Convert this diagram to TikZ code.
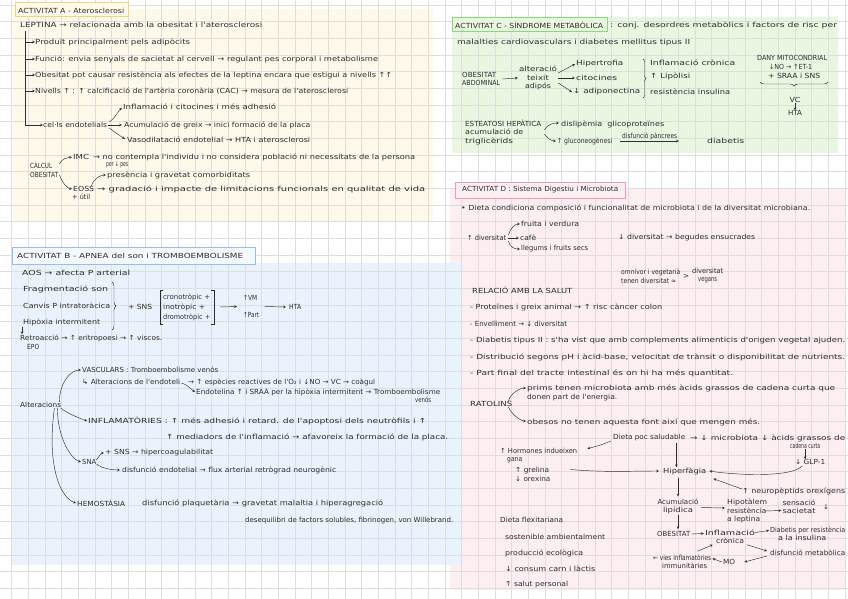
\documentclass[tikz,border=0pt]{standalone}
\usepackage{fontspec}
\usepackage{graphicx}
\usetikzlibrary{arrows.meta,decorations.pathreplacing,calc}
\newfontfamily\hand{DejaVu Sans}
\definecolor{ink}{HTML}{2E2E2E}
\definecolor{yelF}{HTML}{FFF9E9}
\definecolor{yelB}{HTML}{F3D37B}
\definecolor{bluF}{HTML}{EAF3FD}
\definecolor{bluB}{HTML}{92BFF3}
\definecolor{greF}{HTML}{E9F6E0}
\definecolor{greB}{HTML}{86DC74}
\definecolor{pinF}{HTML}{FDEEF2}
\definecolor{pinB}{HTML}{F09ABA}
\definecolor{gridc}{HTML}{DEDEDE}
\newsavebox\wbox
\newcommand\W[2]{\sbox\wbox{#2}\pgfmathsetmacro\wfac{#1/\the\wd\wbox}\scalebox{\wfac}[1]{\usebox\wbox}}
\begin{document}
\begin{tikzpicture}[x=1pt,y=-1pt,
  tx/.style={anchor=west,inner sep=0pt,text=ink,font=\hand\fontsize{7}{8.5}\selectfont},
  ml/.style={tx,align=left},
  mc/.style={tx,anchor=center,align=center},
  ar/.style={draw=ink,line width=0.45pt,-{Stealth[length=2.8pt,width=2.6pt]}},
  ln/.style={draw=ink,line width=0.45pt},
  tbox/.style={line width=1pt}]
\useasboundingbox (0,0) rectangle (848,599);
\fill[white] (0,0) rectangle (848,599);
% region fills
\fill[yelF] (13,9) rectangle (433,222);
\fill[greF] (452,17) rectangle (838,153);
\fill[pinF] (450,188) rectangle (845,590);
\fill[bluF] (12,263) rectangle (463,565);
% grid
\foreach \i in {0,...,50} \draw[gridc,line width=0.5pt] ({11.67+16.667*\i},0) -- ++(0,599);
\foreach \j in {0,...,35} \draw[gridc,line width=0.5pt] (0,{5+16.667*\j}) -- ++(848,0);
% ---------------- A
\draw[yelB,tbox,fill=yelF] (15,3) rectangle (128,17);
\node[tx] (tA) at (18,10.5) {\W{106}{ACTIVITAT A - Aterosclerosi}};
\node[tx] (a1) at (20,25) {\W{242}{LEPTINA → relacionada amb la obesitat i l'aterosclerosi}};
\node[tx] (a2) at (35,42) {\W{155}{Produït principalment pels adipòcits}};
\node[tx] (a3) at (35,59) {\W{343}{Funció: envia senyals de sacietat al cervell → regulant pes corporal i metabolisme}};
\node[tx] (a4) at (35,75) {\W{357}{Obesitat pot causar resistència als efectes de la leptina encara que estigui a nivells ↑↑}};
\node[tx] (a5) at (35,91) {\W{313}{Nivells ↑ : ↑ calcificació de l'artèria coronària (CAC) → mesura de l'aterosclerosi}};
\node[tx] (a6) at (43,125) {\W{64}{cel·ls endotelials}};
\coordinate (aT) at (25,31);
\draw[ar] (aT) |- (a6.west);
\draw[ar] (aT |- a2.west) -- (a2.west);
\draw[ar] (aT |- a3.west) -- (a3.west);
\draw[ar] (aT |- a4.west) -- (a4.west);
\draw[ar] (aT |- a5.west) -- (a5.west);
\node[tx] (a7) at (123,107) {\W{153}{Inflamació i citocines i més adhesió}};
\node[tx] (a8) at (124,125) {\W{186}{Acumulació de greix → inici formació de la placa}};
\node[tx] (a9) at (127,140) {\W{183}{Vasodilatació endotelial → HTA i aterosclerosi}};
\draw[ar] ($(a6.east)+(2,-3)$) .. controls +(6,-4) and +(-4,3) .. ($(a7.west)+(-1,1)$);
\draw[ar] ($(a6.east)+(1,0)$) -- ($(a8.west)+(-2,0)$);
\draw[ar] ($(a6.east)+(2,3)$) .. controls +(5,4) .. ($(a9.west)+(-2,-1)$);
\node[ml] (a10) at (30,170) {\W{22}{CÀLCUL}\\\W{28}{OBESITAT}};
\node[tx] (a11) at (73,157) {\W{16}{IMC}};
\node[tx] (a12) at (93,157) {\W{322}{→ no contempla l'individu i no considera població ni necessitats de la persona}};
\node[tx] (a13) at (106,165) {\W{22}{per ↓ pes}};
\node[tx] (a14) at (73,189) {\W{21}{EOSS}};
\node[tx] (a15) at (72,197) {\W{18}{+ útil}};
\node[tx] (a16) at (97,189) {\W{328}{→ gradació i impacte de limitacions funcionals en qualitat de vida}};
\node[tx] (a17) at (107,175) {\W{143}{presència i gravetat comorbiditats}};
\draw[ar] ($(a10.east)+(1,-6)$) .. controls +(3,-6) and +(-5,1) .. ($(a11.west)+(-1,0)$);
\draw[ar] ($(a10.east)+(1,5)$) .. controls +(3,8) and +(-5,-1) .. ($(a14.west)+(-1,0)$);
\draw[ar] ($(a14.north east)+(-3,0)$) .. controls +(2,-8) and +(-5,0) .. ($(a17.west)+(-1,0)$);
% ---------------- B
\draw[bluB,tbox,fill=bluF!50!white] (12,247) rectangle (255,264);
\node[tx] (tB) at (17,256) {\W{226}{ACTIVITAT B - APNEA del son i TROMBOEMBOLISME}};
\node[tx] (b1) at (22,273) {\W{108}{AOS → afecta P arterial}};
\node[tx] (b2) at (23,289) {\W{85}{Fragmentació son}};
\node[tx] (b3) at (23,306) {\W{87}{Canvis P intratoràcica}};
\node[tx] (b4) at (23,322) {\W{77}{Hipòxia intermitent}};
\draw[ln,decorate,decoration={brace,amplitude=4pt}] (112,282) -- (112,330);
\node[tx] (b5) at (128,307) {\W{24}{+ SNS}};
\draw[ln] (163,290) -- (160,290) -- (160,324) -- (163,324);
\draw[ln] (211,290) -- (214,290) -- (214,324) -- (211,324);
\coordinate (brR) at (214,307);
\node[tx] (b6) at (163,297) {\W{47}{cronotròpic +}};
\node[tx] (b7) at (163,307) {\W{42}{inotròpic +}};
\node[tx] (b8) at (163,317) {\W{47}{dromotròpic +}};
\node[tx] (b9) at (243,298) {\W{14}{↑VM}};
\node[tx] (b10) at (243,315) {\W{16}{↑Part}};
\node[tx] (b11) at (289,307) {\W{12}{HTA}};
\draw[ar] ($(brR)+(6,0)$) -- ($(b9.west)!0.5!(b10.west)+(-6,0)$);
\draw[ar] ($(b9.east)!0.5!(b10.east)+(6,0)$) -- ($(b11.west)+(-3,0)$);
\node[tx] (b12) at (20,338) {\W{142}{Retroacció → ↑ eritropoesi → ↑ viscos.}};
\node[tx] (b13) at (27,347) {\W{12}{EPO}};
\draw[ar] ($(b4.south west)+(-1,1)$) -- ($(b12.north west)+(2,0)$);
\node[tx] (b14) at (20,405) {\W{41}{Alteracions}};
\node[tx] (b15) at (82,370) {\W{136}{VASCULARS : Tromboembolisme venós}};
\node[tx] (b16) at (82,382) {\W{98}{↳ Alteracions de l'endoteli}};
\node[tx] (b17) at (188,382) {\W{187}{→ ↑ espècies reactives de l'O₂ i ↓NO → VC → coàgul}};
\node[tx] (b18) at (196,392) {\W{244}{Endotelina ↑ i SRAA per la hipòxia intermitent → Tromboembolisme}};
\node[tx] (b19) at (415,400) {\W{16}{venós}};
\draw[ar] ($(b16.east)+(1,1)$) .. controls +(5,1) and +(-4,-3) .. ($(b18.west)+(-1,0)$);
\node[tx] (b20) at (88,421) {\W{338}{INFLAMATÒRIES : ↑ més adhesió i retard. de l'apoptosi dels neutròfils i ↑}};
\node[tx] (b21) at (166,437) {\W{282}{↑ mediadors de l'inflamació → afavoreix la formació de la placa.}};
\node[tx] (b22) at (82,462) {\W{14}{SNA}};
\node[tx] (b23) at (105,453) {\W{108}{+ SNS → hipercoagulabilitat}};
\node[tx] (b24) at (122,470) {\W{214}{disfunció endotelial → flux arterial retrògrad neurogènic}};
\draw[ar] ($(b22.east)+(0,-2)$) .. controls +(3,-4) and +(-3,0) .. ($(b23.west)+(-1,0)$);
\draw[ar] ($(b22.east)+(0,2)$) .. controls +(6,5) and +(-6,0) .. ($(b24.west)+(-2,0)$);
\node[tx] (b25) at (77,503) {\W{48}{HEMOSTÀSIA}};
\node[tx] (b26) at (142,503) {\W{241}{disfunció plaquetària → gravetat malaltia i hiperagregació}};
\node[tx] (b27) at (245,521) {\W{208}{desequilibri de factors solubles, fibrinogen, von Willebrand.}};
\draw[ar] ($(b14.north east)+(-2,0)$) .. controls +(0,-20) and +(-10,0) .. ($(b15.west)+(-1,0)$);
\draw[ar] ($(b14.south east)+(-1,0)$) .. controls +(8,6) and +(-8,-3) .. ($(b20.west)+(-1,0)$);
\draw[ar] ($(b14.south east)+(-4,0)$) .. controls +(0,30) and +(-10,-3) .. ($(b22.west)+(-1,0)$);
\draw[ar] ($(b14.south east)+(-7,0)$) .. controls +(-8,60) and +(-15,-5) .. ($(b25.west)+(-1,0)$);
% ---------------- C
\draw[greB,tbox,fill=greF] (452,18) rectangle (607,32);
\node[tx] (tC) at (455,25) {\W{148}{ACTIVITAT C - SÍNDROME METABÒLICA}};
\node[tx] (c1) at (610,25) {\W{227}{: conj. desordres metabòlics i factors de risc per}};
\node[tx] (c2) at (457,43) {\W{233}{malalties cardiovasculars i diabetes mellitus tipus II}};
\node[ml] (c3) at (462,79) {\W{34}{OBESITAT}\\\W{38}{ABDOMINAL}};
\node[mc] (c4) at (538,78) {\W{38}{alteració}\\\W{22}{teixit}\\\W{26}{adipós}};
\draw[ar] ($(c3.east)+(2,0)$) -- ($(c4.west)+(-1,0)$);
\node[tx] (c5) at (576,64) {\W{47}{Hipertrofia}};
\node[tx] (c6) at (576,78) {\W{41}{citocines}};
\node[tx] (c7) at (573,92) {\W{67}{↓ adiponectina}};
\draw[ar] ($(c4.east)+(1,-5)$) -- ($(c5.west)+(-1,0)$);
\draw[ar] ($(c4.east)+(1,0)$) -- ($(c6.west)+(-1,0)$);
\draw[ar] ($(c4.east)+(1,5)$) -- ($(c7.west)+(-1,0)$);
\draw[ln,decorate,decoration={brace,amplitude=3pt}] (643,59) -- (643,98);
\node[tx] (c8) at (650,63) {\W{85}{Inflamació crònica}};
\node[tx] (c9) at (650,76) {\W{40}{↑ Lipòlisi}};
\node[tx] (c10) at (650,92) {\W{80}{resistència insulina}};
\node[tx] (c11) at (757,58) {\W{70}{DANY MITOCONDRIAL}};
\node[tx] (c12) at (769,67) {\W{43}{↓NO → ↑ET-1}};
\node[tx] (c13) at (768,76) {\W{52}{+ SRAA i SNS}};
\draw[ln,decorate,decoration={brace,amplitude=4pt}] (828,82) -- (760,82);
\node[mc] (c14) at (795,100) {\W{11}{VC}};
\node[mc] (c15) at (795,113) {\W{14}{HTA}};
\draw[ar] (c14.south) -- (c15.north);
\node[ml] (c16) at (465,132) {\W{76}{ESTEATOSI HEPÀTICA}\\\W{58}{acumulació de}\\\W{48}{triglicèrids}};
\node[tx] (c17) at (561,124) {\W{103}{dislipèmia \ glicoproteïnes}};
\node[tx] (c18) at (557,141) {\W{55}{↑ gluconeogènesi}};
\node[tx] (c19) at (707,141) {\W{37}{diabetis}};
\draw[ar] ($(c16.east)+(3,-2)$) .. controls +(3,-6) and +(-5,0) .. ($(c17.west)+(-2,-1)$);
\draw[ar] ($(c16.east)+(3,2)$) .. controls +(3,4) and +(-5,0) .. ($(c18.west)+(-1,0)$);
\draw[ar] ($(c18.east)+(8,0)$) -- ($(c19.west)+(-28,0)$) node[tx,midway,above=0.5pt] (c20) {\W{55}{disfunció pàncrees}};
% ---------------- D
\draw[pinB,tbox,fill=pinF] (455,182) rectangle (625,198);
\node[tx] (tD) at (462,190) {\W{156}{ACTIVITAT D : Sistema Digestiu i Microbiota}};
\node[tx] (d1) at (461,208) {\W{349}{• Dieta condiciona composició i funcionalitat de microbiota i de la diversitat microbiana.}};
\node[tx] (d2) at (467,238) {\W{39}{↑ diversitat}};
\node[tx] (d3) at (521,224) {\W{58}{fruita i verdura}};
\node[tx] (d4) at (520,238) {\W{16}{cafè}};
\node[tx] (d5) at (521,249) {\W{67}{llegums i fruits secs}};
\draw[ar] ($(d2.east)+(2,-3)$) .. controls +(2,-7) and +(-5,0) .. ($(d3.west)+(-1,0)$);
\draw[ar] ($(d2.east)+(2,0)$) -- ($(d4.west)+(-1,0)$);
\draw[ar] ($(d2.east)+(2,3)$) .. controls +(2,7) and +(-5,0) .. ($(d5.west)+(-1,0)$);
\node[tx] (d6) at (618,238) {\W{137}{↓ diversitat → begudes ensucrades}};
\node[ml] (d7) at (621,276) {\W{59}{omnívor i vegetarià}\\\W{55}{tenen diversitat ≃}};
\node[tx] (d8) at (683,276) {\W{6}{>}};
\node[tx,align=center] (d9) at (692,275.5) {\W{31}{diversitat}\\\W{19}{vegans}};
\node[tx] (d10) at (472,290) {\W{100}{RELACIÓ AMB LA SALUT}};
\node[tx] (d11) at (470,307) {\W{192}{- Proteïnes i greix animal → ↑ risc càncer colon}};
\node[tx] (d12) at (470,324) {\W{97}{- Envelliment → ↓ diversitat}};
\node[tx] (d13) at (470,341) {\W{375}{- Diabetis tipus II : s'ha vist que amb complements alimenticis d'origen vegetal ajuden.}};
\node[tx] (d14) at (470,357) {\W{375}{- Distribució segons pH i àcid-base, velocitat de trànsit o disponibilitat de nutrients.}};
\node[tx] (d15) at (470,373) {\W{263}{- Part final del tracte intestinal és on hi ha més quantitat.}};
\node[tx] (d16) at (470,404) {\W{42}{RATOLINS}};
\node[tx] (d17) at (527,388) {\W{308}{prims tenen microbiota amb més àcids grassos de cadena curta que}};
\node[tx] (d18) at (527,398) {\W{90}{donen part de l'energia.}};
\node[tx] (d19) at (527,422) {\W{233}{obesos no tenen aquesta font així que mengen més.}};
\draw[ar] ($(d16.north east)+(-4,0)$) .. controls +(2,-8) and +(-6,0) .. ($(d17.west)+(-1,0)$);
\draw[ar] ($(d16.south east)+(-4,0)$) .. controls +(2,6) and +(-6,0) .. ($(d19.west)+(-1,-1)$);
\node[tx] (d20) at (613,438) {\W{72}{Dieta poc saludable}};
\node[tx] (d21) at (690,438) {\W{155}{→ ↓ microbiota ↓ àcids grassos de}};
\node[tx] (d22) at (790,446) {\W{30}{cadena curta}};
\node[tx] (d23) at (795,462) {\W{30}{↓ GLP-1}};
\draw[ar] (d22.south) -- (d22.south |- d23.north);
\node[ml] (d24) at (500,455.5) {\W{77}{↑ Hormones indueixen}\\\hspace*{7pt}\W{15}{gana}};
\draw[ar] ($(d20.west)+(-2,3)$) .. controls +(-10,4) .. ($(d24.north east)+(10,1)$);
\node[ml] (d25) at (515,474.5) {\W{34}{↑ grelina}\\\W{35}{↓ orexina}};
\node[tx] (d26) at (663,471) {\W{43}{Hiperfàgia}};
\draw[ar] ($(d25.east)+(20,-5)$) .. controls +(35,3) and +(-30,0) .. ($(d26.west)+(-4,0)$);
\coordinate (dv) at ($(d20.south east)+(-9,1)$);
\draw[ar] (dv) -- (dv |- d26.north);
\draw[ar] ($(d23.south)+(-8,1)$) .. controls +(-10,12) and +(25,4) .. ($(d26.east)+(3,0)$);
\node[tx] (d27) at (742,491) {\W{103}{↑ neuropèptids orexígens}};
\draw[ar] ($(d27.west)+(0,-2)$) -- ($(d26.south east)+(7,4)$);
\node[mc] (d28) at (678,506.5) {\W{41}{Acumulació}\\\W{30}{lipídica}};
\draw[ar,shorten <=3pt,shorten >=2pt] (d26.south -| d28.north) -- (d28.north);
\node[ml] (d29) at (727,511) {\W{40}{Hipotàlem}\\\W{39}{resistència}\\\W{33}{a leptina}};
\node[mc] (d30) at (799,506.5) {\W{33}{sensació}\\\W{33}{sacietat}};
\node[tx] (d30b) at (823,507) {↓};
\draw[ar] ($(d28.east)+(2,1)$) -- ($(d29.west)+(-2,-3)$);
\draw[ar] ($(d29.east)+(-3,0)$) -- ($(d30.west)+(-1,4)$);
\node[tx] (d31) at (657,534) {\W{33}{OBESITAT}};
\draw[ar,shorten <=1pt,shorten >=2pt] (d28.south) -- (d28.south |- d31.north);
\node[mc] (d32) at (730,536.5) {\W{50}{Inflamació}\\\W{28}{crònica}};
\draw[ar] ($(d31.east)+(1,0)$) -- ($(d32.west)+(-1,-3)$);
\node[ml] (d33) at (770,533.5) {\W{75}{Diabetis per resistència}\\\hspace*{8pt}\W{48}{a la insulina}};
\draw[ar] ($(d32.east)+(0,-4)$) -- ($(d33.west)+(-1,-3)$);
\node[tx] (d34) at (770,553) {\W{75}{disfunció metabòlica}};
\draw[ar] ($(d32.south east)+(-8,1)$) -- ($(d34.west)+(-3,-2)$);
\node[tx] (d35) at (723,562) {\W{12}{MO}};
\draw[ar] ($(d34.west)+(-3,3)$) -- ($(d35.east)+(9,0)$);
\node[ml] (d36) at (653,561.5) {\W{58}{← vies inflamatòries}\\\hspace*{9pt}\W{45}{immunitàries}};
\draw[ar] ($(d35.west)+(-1,0)$) -- ($(d36.east)+(1,-3)$);
\draw[ar] ($(d36.north east)+(-14,-3)$) -- ($(d32.south west)+(8,1)$);
\node[tx] (d37) at (500,520) {\W{63}{Dieta flexitariana}};
\node[tx] (d38) at (505,537) {\W{100}{sostenible ambientalment}};
\node[tx] (d39) at (505,553) {\W{78}{producció ecològica}};
\node[tx] (d40) at (505,569) {\W{90}{↓ consum carn i làctis}};
\node[tx] (d41) at (505,585) {\W{63}{↑ salut personal}};
\end{tikzpicture}
\end{document}
